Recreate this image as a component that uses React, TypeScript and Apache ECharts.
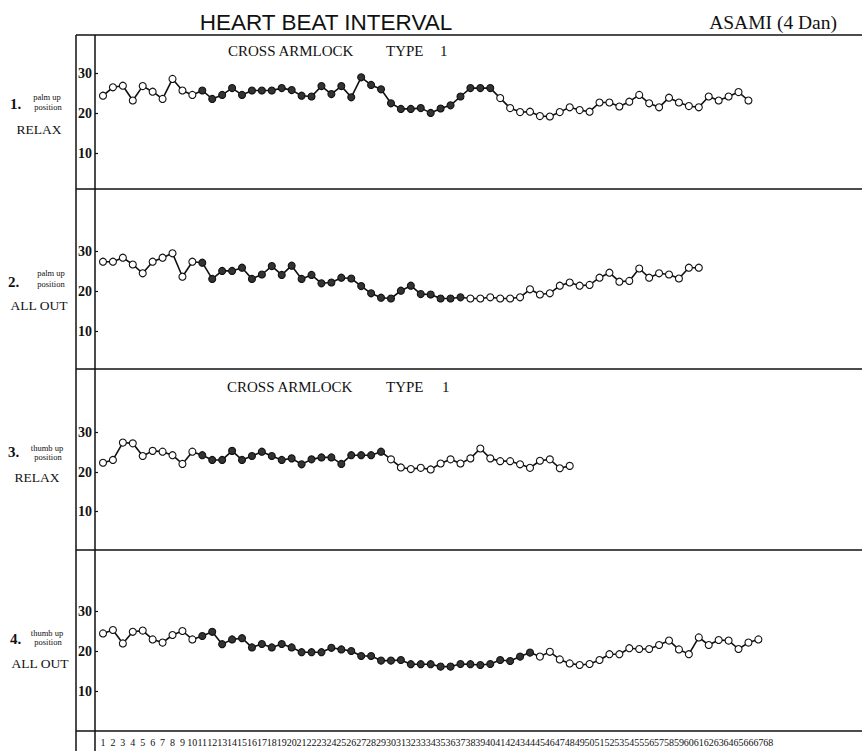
import React, { useEffect, useRef } from "react";
import * as echarts from "echarts";

const categories = [
  "1","2","3","4","5","6","7","8","9","10","11","12","13","14","15","16","17","18","19","20",
  "21","22","23","24","25","26","27","28","29","30","31","32","33","34","35","36","37","38","39","40",
  "41","42","43","44","45","46","47","48","49","50","51","52","53","54","55","56","57","58","59","60",
  "61","62","63","64","65","66","67","68",
];

const yTicks = [10, 20, 30];

// 1. palm up position RELAX
const panel1 = [
  24.4, 26.5, 26.9, 23.2, 26.8, 25.4, 23.6, 28.6, 25.7, 24.6,
  25.7, 23.6, 24.6, 26.3, 24.6, 25.7, 25.7, 25.7, 26.3, 25.8,
  24.4, 24.2, 26.8, 24.8, 26.8, 24.0, 29.0, 27.1, 26.0, 22.5,
  21.1, 21.1, 21.3, 20.1, 21.2, 22.0, 24.2, 26.3, 26.3, 26.3,
  23.8, 21.3, 20.3, 20.4, 19.3, 19.2, 20.3, 21.5, 20.8, 20.4,
  22.7, 22.7, 21.7, 22.9, 24.6, 22.5, 21.5, 23.9, 22.7, 21.8,
  21.5, 24.2, 23.2, 24.2, 25.3, 23.2,
];
// 2. palm up position ALL OUT
const panel2 = [
  27.5, 27.5, 28.5, 26.8, 24.6, 27.5, 28.5, 29.6, 23.75, 27.5,
  27.25, 23.2, 25.2, 25.2, 26.0, 23.2, 24.3, 26.4, 24.2, 26.5,
  23.2, 24.2, 22.1, 22.3, 23.5, 23.3, 21.4, 19.6, 18.5, 18.3,
  20.25, 21.5, 19.4, 19.3, 18.3, 18.3, 18.6, 18.3, 18.3, 18.6,
  18.3, 18.3, 18.6, 20.6, 19.3, 19.6, 21.5, 22.3, 21.5, 21.7,
  23.5, 24.75, 22.5, 22.7, 25.8, 23.5, 24.6, 24.3, 23.3, 26.0, 26.0,
];
// 3. thumb up position RELAX
const panel3 = [
  22.4, 23.1, 27.5, 27.3, 24.1, 25.4, 25.2, 24.3, 22.1, 25.2,
  24.3, 23.1, 23.1, 25.4, 23.1, 24.1, 25.2, 24.1, 23.1, 23.5,
  22.0, 23.25, 23.75, 23.75, 22.1, 24.3, 24.3, 24.3, 25.2, 23.25,
  21.2, 20.8, 21.1, 20.7, 22.2, 23.25, 22.2, 23.5, 26.0, 23.5,
  22.8, 22.8, 22.0, 21.1, 22.9, 23.25, 21.0, 21.6,
];
// 4. thumb up position ALL OUT
const panel4 = [
  24.4, 25.25, 21.9, 24.8, 25.1, 22.9, 22.1, 24.0, 25.0, 22.9,
  23.75, 24.8, 21.7, 22.9, 23.2, 20.9, 21.75, 20.9, 21.75, 20.9,
  19.7, 19.7, 19.7, 20.8, 20.4, 20.0, 18.75, 18.75, 17.6, 17.6,
  17.75, 16.7, 16.7, 16.7, 16.1, 16.1, 16.75, 16.7, 16.5, 16.75,
  17.75, 17.5, 18.6, 19.6, 18.6, 19.8, 17.9, 16.9, 16.5, 16.75,
  17.75, 19.2, 19.2, 20.7, 20.5, 20.5, 21.5, 22.6, 20.4, 19.2,
  23.4, 21.5, 22.75, 22.6, 20.5, 22.1, 22.9,
];

// beat numbers drawn with filled (black) markers, per panel [first, last]
const filled1 = [11, 40];
const filled2 = [11, 37];
const filled3 = [11, 29];
const filled4 = [11, 44];

const panelValues = [panel1, panel2, panel3, panel4];
const panelFilled = [filled1, filled2, filled3, filled4];

const W = 862;
const H = 751;
const SERIF = "'Liberation Serif', 'DejaVu Serif', serif";
const SANS = "'Liberation Sans', 'DejaVu Sans', sans-serif";

const gridTops = [33.3, 211.7, 393.2, 571];
const gridHeights = [160, 160, 158, 160];
const GRID_LEFT = 103;
const GRID_WIDTH = 67 * 9.93;

function txt(text: string, x: number, y: number, size: number, family: string, align = "left", weight: any = "normal") {
  return {
    type: "text",
    silent: true,
    style: {
      text,
      x,
      y,
      fill: "#111",
      font: `${weight} ${size}px ${family}`,
      textAlign: align,
      align,
      textVerticalAlign: "middle",
      verticalAlign: "middle",
    },
  };
}

function hline(y: number, x1: number, x2: number, w = 1.5) {
  return {
    type: "line",
    silent: true,
    shape: { x1, y1: y, x2, y2: y },
    style: { stroke: "#111", lineWidth: w },
  };
}
function vline(x: number, y1: number, y2: number, w = 1.5) {
  return {
    type: "line",
    silent: true,
    shape: { x1: x, y1, x2: x, y2 },
    style: { stroke: "#111", lineWidth: w },
  };
}

export default function App() {
  const ref = useRef<HTMLDivElement>(null);

  useEffect(() => {
    document.body.style.margin = "0";
    if (!ref.current) return;
    const chart = echarts.init(ref.current, null, { renderer: "svg" });

    const grids = gridTops.map((top, i) => ({
      left: GRID_LEFT,
      top,
      width: GRID_WIDTH,
      height: gridHeights[i],
    }));

    const xAxes = gridTops.map((_, i) => ({
      type: "category",
      gridIndex: i,
      data: categories,
      boundaryGap: false,
      axisLine: { show: false },
      axisTick: { show: false },
      splitLine: { show: false },
      axisLabel: {
        show: i === 3,
        interval: 0,
        margin: 6,
        fontSize: 10,
        fontFamily: SERIF,
        color: "#111",
      },
    }));

    const yAxes = gridTops.map((_, i) => ({
      type: "value",
      gridIndex: i,
      min: 0,
      max: 40,
      interval: 10,
      offset: 8,
      axisLine: { show: false },
      splitLine: { show: false },
      axisTick: {
        show: true,
        inside: true,
        length: 3,
        customValues: yTicks,
        lineStyle: { color: "#111", width: 1.2 },
      },
      axisLabel: {
        show: true,
        customValues: yTicks,
        margin: 3,
        fontSize: 14,
        fontWeight: "bold",
        fontFamily: SERIF,
        color: "#111",
      },
    }));

    const series = panelValues.map((vals, i) => {
      const f = panelFilled[i];
      return {
        type: "line",
        xAxisIndex: i,
        yAxisIndex: i,
        symbol: "circle",
        symbolSize: 7,
        showSymbol: true,
        showAllSymbol: true,
        lineStyle: { color: "#111", width: 1.6 },
        itemStyle: { color: "#fff", borderColor: "#111", borderWidth: 1.1 },
        data: vals.map((v, k) => {
          const n = k + 1;
          const isFilled = n >= f[0] && n <= f[1];
          return { value: v, itemStyle: { color: isFilled ? "#333" : "#fff" } };
        }),
      };
    });

    const graphic: any[] = [
      // frame
      hline(35, 76, W, 1.6),
      hline(189, 76, W, 1.6),
      hline(369, 76, W, 1.6),
      hline(550, 76, W, 1.6),
      hline(731, 76, W, 1.6),
      vline(76, 35, H, 1.5),
      vline(95, 35, H, 1.5),
      // titles
      txt("HEART BEAT INTERVAL", 326, 22, 22.5, SANS, "center", 300),
      txt("ASAMI (4 Dan)", 837, 22, 19.5, SERIF, "right"),
      // panel 1
      txt("CROSS ARMLOCK", 228, 51, 15, SERIF, "left"),
      txt("TYPE", 386, 51, 15, SERIF, "left"),
      txt("1", 440, 51, 15, SERIF, "left"),
      txt("1.", 10, 104, 15, SERIF, "left", "bold"),
      txt("palm up", 47, 97, 8.5, SERIF, "center"),
      txt("position", 48, 106.5, 8.5, SERIF, "center"),
      txt("RELAX", 39, 129, 13.5, SERIF, "center"),
      // panel 2
      txt("2.", 8, 282, 15, SERIF, "left", "bold"),
      txt("palm up", 51, 273, 8.5, SERIF, "center"),
      txt("position", 51, 284, 8.5, SERIF, "center"),
      txt("ALL OUT", 39, 305, 13.5, SERIF, "center"),
      // panel 3
      txt("CROSS ARMLOCK", 227, 387, 15, SERIF, "left"),
      txt("TYPE", 386, 387, 15, SERIF, "left"),
      txt("1", 442, 387, 15, SERIF, "left"),
      txt("3.", 8, 452, 15, SERIF, "left", "bold"),
      txt("thumb up", 47, 447.5, 8.5, SERIF, "center"),
      txt("position", 48, 457, 8.5, SERIF, "center"),
      txt("RELAX", 37, 477, 13.5, SERIF, "center"),
      // panel 4
      txt("4.", 10, 639, 15, SERIF, "left", "bold"),
      txt("thumb up", 47, 632.5, 8.5, SERIF, "center"),
      txt("position", 48, 642, 8.5, SERIF, "center"),
      txt("ALL OUT", 40, 663, 13.5, SERIF, "center"),
    ];

    chart.setOption({
      animation: false,
      backgroundColor: "#fff",
      grid: grids,
      xAxis: xAxes,
      yAxis: yAxes,
      series,
      graphic,
    } as any);

    return () => chart.dispose();
  }, []);

  return (
    <div
      ref={ref}
      style={{ position: "absolute", left: 0, top: 0, width: W, height: H, background: "#fff" }}
    />
  );
}
